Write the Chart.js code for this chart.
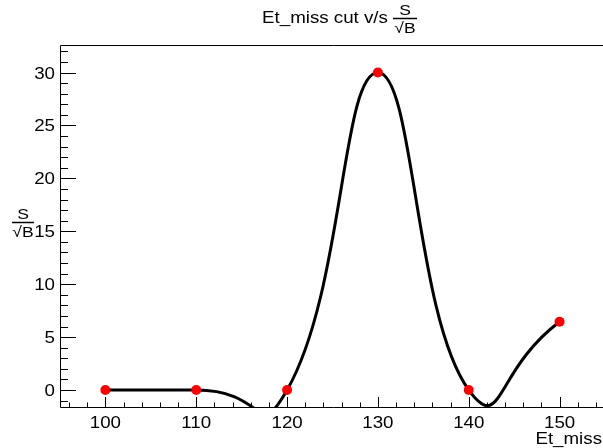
<!DOCTYPE html>
<html><head><meta charset="utf-8">
<script src="https://cdn.jsdelivr.net/npm/chart.js@4/dist/chart.umd.min.js"></script>
<style>html,body{margin:0;padding:0;overflow:hidden;background:#fff;width:603px;height:448px}canvas{display:block}</style>
</head><body>
<canvas id="c" width="606" height="448" style="width:606px;height:448px"></canvas>
<script>
const cutValues = [100, 110, 120, 130, 140, 150];
const significance = [0, 0, 0, 30, 0, 6.45];
const xTickLabels = [100, 110, 120, 130, 140, 150];
const yTickLabels = [0, 5, 10, 15, 20, 25, 30];
const xRange = [95, 155];
const yRange = [-1.7, 32.6];
const titleText = 'Et_miss cut v/s';
const xTitle = 'Et_miss';
const fracTop = 'S';
const fracBottom = '√B';

const FONT = '"Liberation Sans", Arial, Helvetica, sans-serif';
const SX = 1.17;

function txt(ctx, s, x, y, align, size) {
  ctx.save();
  ctx.translate(x, y);
  ctx.scale(SX, 1);
  ctx.font = size + 'px ' + FONT;
  ctx.textAlign = align;
  ctx.textBaseline = 'alphabetic';
  ctx.fillStyle = '#000';
  ctx.fillText(s, 0, 0);
  ctx.restore();
}
function frac(ctx, cx, yLine, size, halfW) {
  txt(ctx, fracTop, cx, yLine - 3, 'center', size);
  ctx.beginPath();
  ctx.moveTo(cx - halfW, yLine + 0.5);
  ctx.lineTo(cx + halfW, yLine + 0.5);
  ctx.lineWidth = 1.5;
  ctx.strokeStyle = '#000';
  ctx.stroke();
  txt(ctx, fracBottom, cx, yLine + 15, 'center', size);
}

const rootStyle = {
  id: 'rootStyle',
  afterDatasetsDraw(chart) {
    const { ctx, chartArea: a, scales: { x, y } } = chart;
    ctx.save();
    ctx.strokeStyle = '#000';
    ctx.lineWidth = 1;
    ctx.beginPath();
    ctx.moveTo(a.right + 2, a.top + 0.5);
    ctx.lineTo(a.left + 0.5, a.top + 0.5);
    ctx.lineTo(a.left + 0.5, a.bottom - 0.5);
    ctx.lineTo(a.right + 2, a.bottom - 0.5);
    ctx.stroke();
    ctx.beginPath();
    for (let v = Math.ceil(xRange[0] / 2) * 2; v <= xRange[1]; v += 2) {
      const px = Math.round(x.getPixelForValue(v)) + 0.5;
      const len = (v % 10 === 0) ? 11 : 5.5;
      ctx.moveTo(px, a.bottom);
      ctx.lineTo(px, a.bottom - len);
    }
    for (let v = Math.ceil(yRange[0]); v <= yRange[1]; v += 1) {
      const py = Math.round(y.getPixelForValue(v)) + 0.5;
      const len = (v % 5 === 0) ? 16 : 8;
      ctx.moveTo(a.left, py);
      ctx.lineTo(a.left + len, py);
    }
    ctx.stroke();
    xTickLabels.forEach(v => txt(ctx, String(v), x.getPixelForValue(v), a.bottom + 20, 'center', 16));
    yTickLabels.forEach(v => txt(ctx, String(v), a.left - 5, y.getPixelForValue(v) + 6, 'right', 16));
    txt(ctx, titleText, 325, 23, 'center', 16);
    frac(ctx, 405, 18, 15, 12);
    frac(ctx, 23, 222, 15, 11);
    txt(ctx, xTitle, 602, 444, 'right', 16);
    ctx.restore();
  }
};

const pts = cutValues.map((c, i) => ({ x: c, y: significance[i] }));
const show = idx => ctx => idx.includes(ctx.p0DataIndex) ? '#000' : 'rgba(0,0,0,0)';
function curve(tension, segs, order, withPoints) {
  return {
    data: pts,
    order: order,
    borderColor: '#000',
    borderWidth: 3,
    tension: tension,
    capBezierPoints: false,
    fill: false,
    clip: 0,
    segment: { borderColor: show(segs) },
    pointRadius: withPoints ? 5 : 0,
    pointBackgroundColor: '#ff0000',
    pointBorderColor: '#ff0000',
    pointBorderWidth: 0
  };
}

new Chart(document.getElementById('c'), {
  type: 'line',
  data: {
    datasets: [
      curve(0.4, [0, 2, 3], 0, true),
      curve(0.8, [1], 1, false),
      curve(0.72, [4], 2, false)
    ]
  },
  options: {
    responsive: false,
    devicePixelRatio: 1,
    animation: false,
    layout: { autoPadding: false, padding: { top: 45, left: 60, right: 1, bottom: 40 } },
    elements: { line: { capBezierPoints: false } },
    plugins: { legend: { display: false }, tooltip: { enabled: false }, title: { display: false } },
    scales: {
      x: { type: 'linear', min: xRange[0], max: xRange[1], display: false },
      y: { type: 'linear', min: yRange[0], max: yRange[1], display: false }
    }
  },
  plugins: [rootStyle]
});
</script>
</body></html>
